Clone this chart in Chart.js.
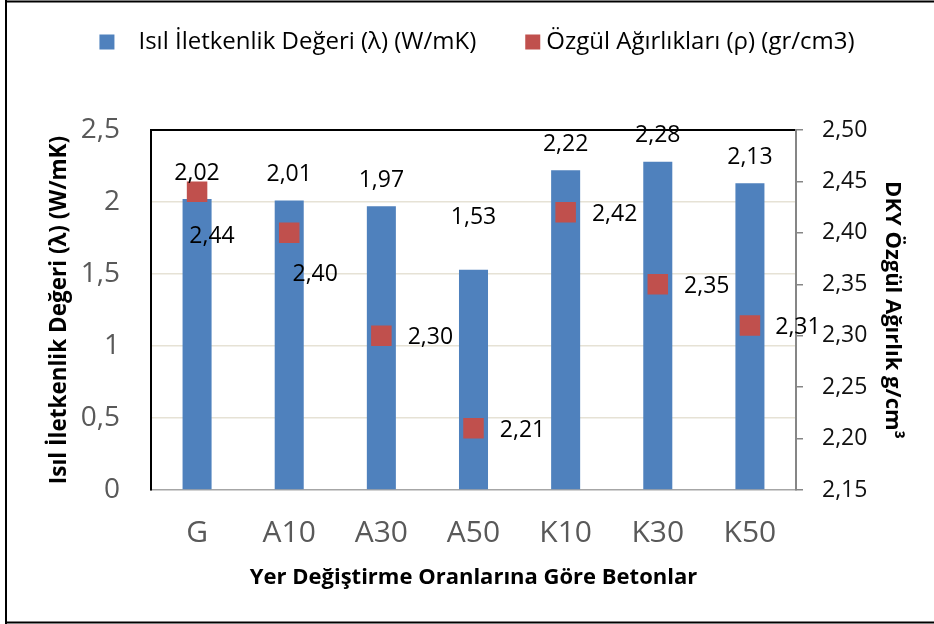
<!DOCTYPE html>
<html>
<head>
<meta charset="utf-8">
<script src="https://cdn.jsdelivr.net/npm/chart.js@4"></script>
<style>
html,body{margin:0;padding:0;background:#fff;}
canvas{display:block;}
</style>
</head>
<body>
<canvas id="c" width="934" height="624"></canvas>
<script>
// ---- data ----
const categories = ['G', 'A10', 'A30', 'A50', 'K10', 'K30', 'K50'];
const conductivity = [2.02, 2.01, 1.97, 1.53, 2.22, 2.28, 2.13];
const density = [2.44, 2.40, 2.30, 2.21, 2.42, 2.35, 2.31];
const leftTicks = [0, 0.5, 1, 1.5, 2, 2.5];
const leftTickLabels = ['0', '0,5', '1', '1,5', '2', '2,5'];
const rightTicks = [2.15, 2.20, 2.25, 2.30, 2.35, 2.40, 2.45, 2.50];
const rightTickLabels = ['2,15', '2,20', '2,25', '2,30', '2,35', '2,40', '2,45', '2,50'];
const seriesNames = ['Isıl İletkenlik Değeri (λ) (W/mK)', 'Özgül Ağırlıkları (ρ) (gr/cm3)'];

const FONT = "'Open Sans', 'Noto Sans', sans-serif";
const BLUE = '#4F81BD';
const RED = '#C0504D';
const fmt = v => v.toFixed(2).replace('.', ',');

const background = {
  id: 'background',
  beforeDraw(chart) {
    const c = chart.ctx;
    c.save();
    c.fillStyle = '#fff';
    c.fillRect(0, 0, chart.width, chart.height);
    c.restore();
  }
};

const frame = {
  id: 'frame',
  afterDraw(chart) {
    const c = chart.ctx;
    c.save();
    c.strokeStyle = '#000';
    c.lineWidth = 2;
    c.beginPath();
    c.moveTo(6, 0); c.lineTo(6, 624);
    c.moveTo(5, 1.5); c.lineTo(934, 1.5);
    c.moveTo(5, 622.5); c.lineTo(934, 622.5);
    c.stroke();
    c.restore();
  }
};

const legendDraw = {
  id: 'legendDraw',
  afterDraw(chart, args, o) {
    const ctx = chart.ctx;
    ctx.save();
    ctx.font = o.font;
    ctx.textBaseline = 'middle';
    ctx.textAlign = 'left';
    const items = chart.data.datasets.map((d, i) => ({
      label: d.label, color: d.backgroundColor, gap: o.gaps[i], w: ctx.measureText(d.label).width
    }));
    const total = items.reduce((s, it) => s + o.box + it.gap + it.w, 0) + o.spacing * (items.length - 1);
    let x = o.center - total / 2;
    items.forEach(it => {
      ctx.fillStyle = it.color;
      ctx.fillRect(x, o.y - o.box / 2, o.box, o.box);
      x += o.box + it.gap;
      ctx.fillStyle = '#000';
      ctx.fillText(it.label, x, o.y);
      x += it.w + o.spacing;
    });
    ctx.restore();
  }
};

const valueLabels = {
  id: 'valueLabels',
  afterDatasetsDraw(chart, args, o) {
    const ctx = chart.ctx;
    ctx.save();
    ctx.font = o.font;
    ctx.fillStyle = '#000';
    ctx.textAlign = 'center';
    ctx.textBaseline = 'middle';
    const barData = chart.data.datasets[0].data;
    chart.getDatasetMeta(0).data.forEach((el, i) => {
      ctx.fillText(fmt(barData[i]), el.x, el.y - o.barLift[i]);
    });
    const ptData = chart.data.datasets[1].data;
    chart.getDatasetMeta(1).data.forEach((el, i) => {
      const s = o.pointShift[i];
      ctx.fillText(fmt(ptData[i]), el.x + s[0], el.y + s[1]);
    });
    ctx.restore();
  }
};

new Chart(document.getElementById('c'), {
  type: 'bar',
  data: {
    labels: categories,
    datasets: [
      {
        label: seriesNames[0],
        data: conductivity,
        backgroundColor: BLUE,
        borderWidth: 0,
        yAxisID: 'y',
        barPercentage: 0.315,
        categoryPercentage: 1.0,
        order: 1
      },
      {
        type: 'line',
        label: seriesNames[1],
        data: density,
        yAxisID: 'y1',
        showLine: false,
        pointStyle: 'rect',
        pointRadius: 14.5,
        pointHoverRadius: 14.5,
        pointBorderWidth: 0,
        backgroundColor: RED,
        borderColor: RED,
        order: 0
      }
    ]
  },
  options: {
    responsive: false,
    animation: false,
    events: [],
    layout: { padding: { left: 30, right: 10, top: 130, bottom: 10 } },
    plugins: {
      legend: { display: false },
      tooltip: { enabled: false },
      legendDraw: {
        font: "24px " + FONT,
        y: 42, center: 477, box: 15, gaps: [24, 6], spacing: 49
      },
      valueLabels: {
        font: "23px " + FONT,
        barLift: [26, 26, 26, 52, 26, 26, 26],
        pointShift: [[15, 45], [26, 42], [49, 2], [49, 2], [49, 2], [49, 2], [48, 2]]
      }
    },
    scales: {
      x: {
        grid: { display: false, drawTicks: false },
        border: { display: true, color: '#A6A6A6', width: 1.5 },
        ticks: { font: { family: FONT, size: 30 }, color: '#595959', padding: 25, maxRotation: 0, autoSkip: false },
        title: {
          display: true, text: 'Yer Değiştirme Oranlarına Göre Betonlar', color: '#000',
          font: { family: FONT, size: 22, weight: 'bold' }, padding: { top: 0, bottom: 23 }
        },
        afterFit(s) { s.height = 124; }
      },
      y: {
        position: 'left',
        min: 0, max: 2.5,
        afterBuildTicks(s) { s.ticks = leftTicks.map(v => ({ value: v })); },
        ticks: { callback: (v, i) => leftTickLabels[i], font: { family: FONT, size: 28 }, color: '#595959', padding: 31 },
        grid: {
          drawTicks: false,
          color: c => (c.tick && c.tick.value === 2.5) ? '#000' : ((c.tick && c.tick.value === 0) ? 'rgba(0,0,0,0)' : '#E6E2D5'),
          lineWidth: c => (c.tick && c.tick.value === 2.5) ? 2 : 1.5
        },
        border: { color: '#000', width: 2 },
        title: {
          display: true, text: seriesNames[0], color: '#000',
          font: { family: FONT, size: 22.5, weight: 'bold' }, padding: { top: 16, bottom: 0 }
        },
        afterFit(s) { s.width = 121; }
      },
      y1: {
        position: 'right',
        min: 2.15, max: 2.5,
        afterBuildTicks(s) { s.ticks = rightTicks.map(v => ({ value: v })); },
        ticks: { callback: (v, i) => rightTickLabels[i], font: { family: FONT, size: 23 }, color: '#111', padding: 19 },
        grid: { drawOnChartArea: false, drawTicks: true, tickLength: 7, color: '#868686', lineWidth: 1.5 },
        border: { color: '#868686', width: 2 },
        title: {
          display: true, text: 'DKY Özgül Ağırlık g/cm³', color: '#000',
          font: { family: FONT, size: 22, weight: 'bold' }, padding: { top: 19, bottom: 0 }
        },
        afterFit(s) { s.width = 128; }
      }
    }
  },
  plugins: [background, legendDraw, valueLabels, frame]
});
</script>
</body>
</html>
